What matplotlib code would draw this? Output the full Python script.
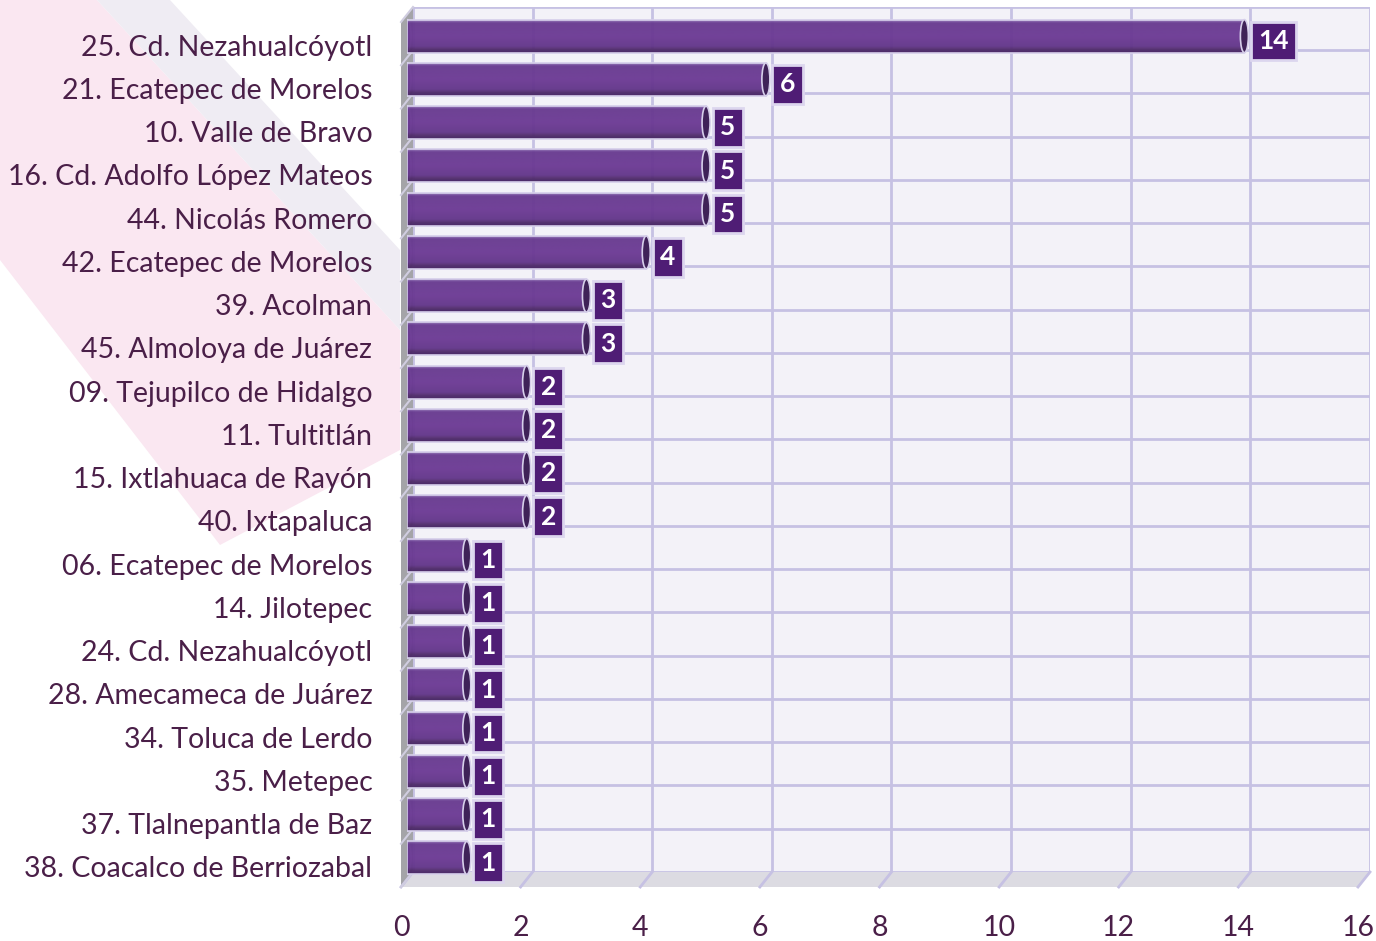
import matplotlib.pyplot as plt
import numpy as np
from matplotlib.patches import Polygon, Ellipse
from matplotlib.colors import LinearSegmentedColormap
import matplotlib.transforms as mtransforms

plt.rcParams['font.family'] = ['Lato', 'DejaVu Sans']

# Data
distritos = [
    "25. Cd. Nezahualcóyotl", "21. Ecatepec de Morelos", "10. Valle de Bravo",
    "16. Cd. Adolfo López Mateos", "44. Nicolás Romero", "42. Ecatepec de Morelos",
    "39. Acolman", "45. Almoloya de Juárez", "09. Tejupilco de Hidalgo",
    "11. Tultitlán", "15. Ixtlahuaca de Rayón", "40. Ixtapaluca",
    "06. Ecatepec de Morelos", "14. Jilotepec", "24. Cd. Nezahualcóyotl",
    "28. Amecameca de Juárez", "34. Toluca de Lerdo", "35. Metepec",
    "37. Tlalnepantla de Baz", "38. Coacalco de Berriozabal",
]
casos = [14, 6, 5, 5, 5, 4, 3, 3, 2, 2, 2, 2, 1, 1, 1, 1, 1, 1, 1, 1]
x_ticks = [0, 2, 4, 6, 8, 10, 12, 14, 16]

W, H = 1376, 941
fig = plt.figure(figsize=(W / 100, H / 100), dpi=100)
txt_col = '#4a1f48'
grid_col = '#c6c1e3'


def fig_box(left, top, right, bottom):
    # pixel box -> figure fraction
    return [left / W, 1 - bottom / H, (right - left) / W, (bottom - top) / H]


# background decoration of the slide
pink = [(0, 0), (97, 0), (400, 330), (400, 450), (220, 545), (0, 260)]
lav = [(97, 0), (170, 0), (400, 250), (400, 330)]
for pts, col in ((pink, '#fae7f1'), (lav, '#efecf3')):
    fig.patches.append(Polygon([(x / W, 1 - y / H) for x, y in pts], closed=True,
                               transform=fig.transFigure, facecolor=col,
                               edgecolor='none', zorder=-10))

n = len(distritos)

# back wall
ax_back = fig.add_axes(fig_box(413, 7, 1370, 872))
ax_back.set_xlim(0, 16)
ax_back.set_ylim(n - 0.5, -0.5)
ax_back.set_facecolor('#f3f2f8')
for s in ax_back.spines.values():
    s.set_visible(False)
for x in x_ticks:
    ax_back.axvline(x, color=grid_col, lw=2, zorder=1)
for k in range(n + 1):
    ax_back.axhline(k - 0.5, color=grid_col, lw=2, zorder=1)

# depth offset (front minus back) in data units
dx = -12 / (957 / 16)
dy = 15 / (865 / n)
y0 = n - 0.5
floor = Polygon([(0, y0), (16, y0), (16 + dx, y0 + dy), (dx, y0 + dy)],
                closed=True, facecolor='#dcdbe2', edgecolor='none', clip_on=False, zorder=1)
ax_back.add_patch(floor)
for x in x_ticks:
    ax_back.plot([x, x + dx], [y0, y0 + dy], color=grid_col, lw=2, clip_on=False, zorder=2)
wall = Polygon([(0, -0.5), (0, y0), (dx, y0 + dy), (dx, -0.5 + dy)],
               closed=True, facecolor='#a4a4a8', edgecolor='none', clip_on=False, zorder=1)
ax_back.add_patch(wall)
for k in range(n + 1):
    ax_back.plot([0, dx], [k - 0.5, k - 0.5 + dy], color='#d0cde0', lw=1.5, clip_on=False, zorder=2)

ax_back.set_xticks(x_ticks)
ax_back.set_xticklabels([str(t) for t in x_ticks])
ax_back.set_yticks([])
ax_back.tick_params(axis='x', length=0, pad=31, labelsize=20.5, labelcolor=txt_col)
shift = mtransforms.ScaledTranslation(-12 / 100, 0, fig.dpi_scale_trans)
for lab in ax_back.get_xticklabels():
    lab.set_transform(lab.get_transform() + shift)

# bars (mid depth)
ax = fig.add_axes(fig_box(407, 14.5, 1364, 879.5))
ax.set_facecolor('none')
for s in ax.spines.values():
    s.set_visible(False)

bar_h = 0.763
cmap = LinearSegmentedColormap.from_list('cyl', [
    (0.0, '#9577b8'), (0.08, '#683a90'), (0.5, '#6c3a95'),
    (0.8, '#63368a'), (0.9, '#502c6b'), (1.0, '#452462')])
grad = np.linspace(0, 1, 64).reshape(-1, 1)
cap_w = 8 / (957 / 16)

ypos = np.arange(n)
for i, v in enumerate(casos):
    ax.add_patch(Ellipse((0, i), cap_w, bar_h, facecolor='#683a90',
                         edgecolor='#d6cfea', lw=1.2, zorder=2))
bars = ax.barh(ypos, casos, height=bar_h, facecolor='none',
               edgecolor='#d6cfea', linewidth=1.2, zorder=4)
for i, (b, v) in enumerate(zip(bars, casos)):
    im = ax.imshow(grad, extent=(0, v, i + bar_h / 2, i - bar_h / 2), origin='upper',
                   aspect='auto', cmap=cmap, alpha=0.96, zorder=3)
    im.set_clip_path(b)
    ax.add_patch(Ellipse((v, i), cap_w, bar_h, facecolor='#3f2258',
                         edgecolor='#d6cfea', lw=1.2, zorder=5))
    ax.annotate(str(v), xy=(v, i), xytext=(10, -3.5), textcoords='offset points',
                ha='left', va='center', fontsize=19, fontweight='bold', color='white',
                zorder=6,
                bbox=dict(boxstyle='square,pad=0.28', fc='#4f1d75', ec='#dcd6ee', lw=2))

ax.set_xlim(0, 16)
ax.set_ylim(n - 0.5, -0.5)
ax.set_xticks([])
ax.set_yticks(ypos)
ax.set_yticklabels(distritos)
ax.tick_params(axis='y', length=0, pad=25, labelsize=20.5, labelcolor=txt_col)
shift_y = mtransforms.ScaledTranslation(0, -9 / 100, fig.dpi_scale_trans)
for lab in ax.get_yticklabels():
    lab.set_transform(lab.get_transform() + shift_y)

fig.savefig('out.png', dpi=100)
